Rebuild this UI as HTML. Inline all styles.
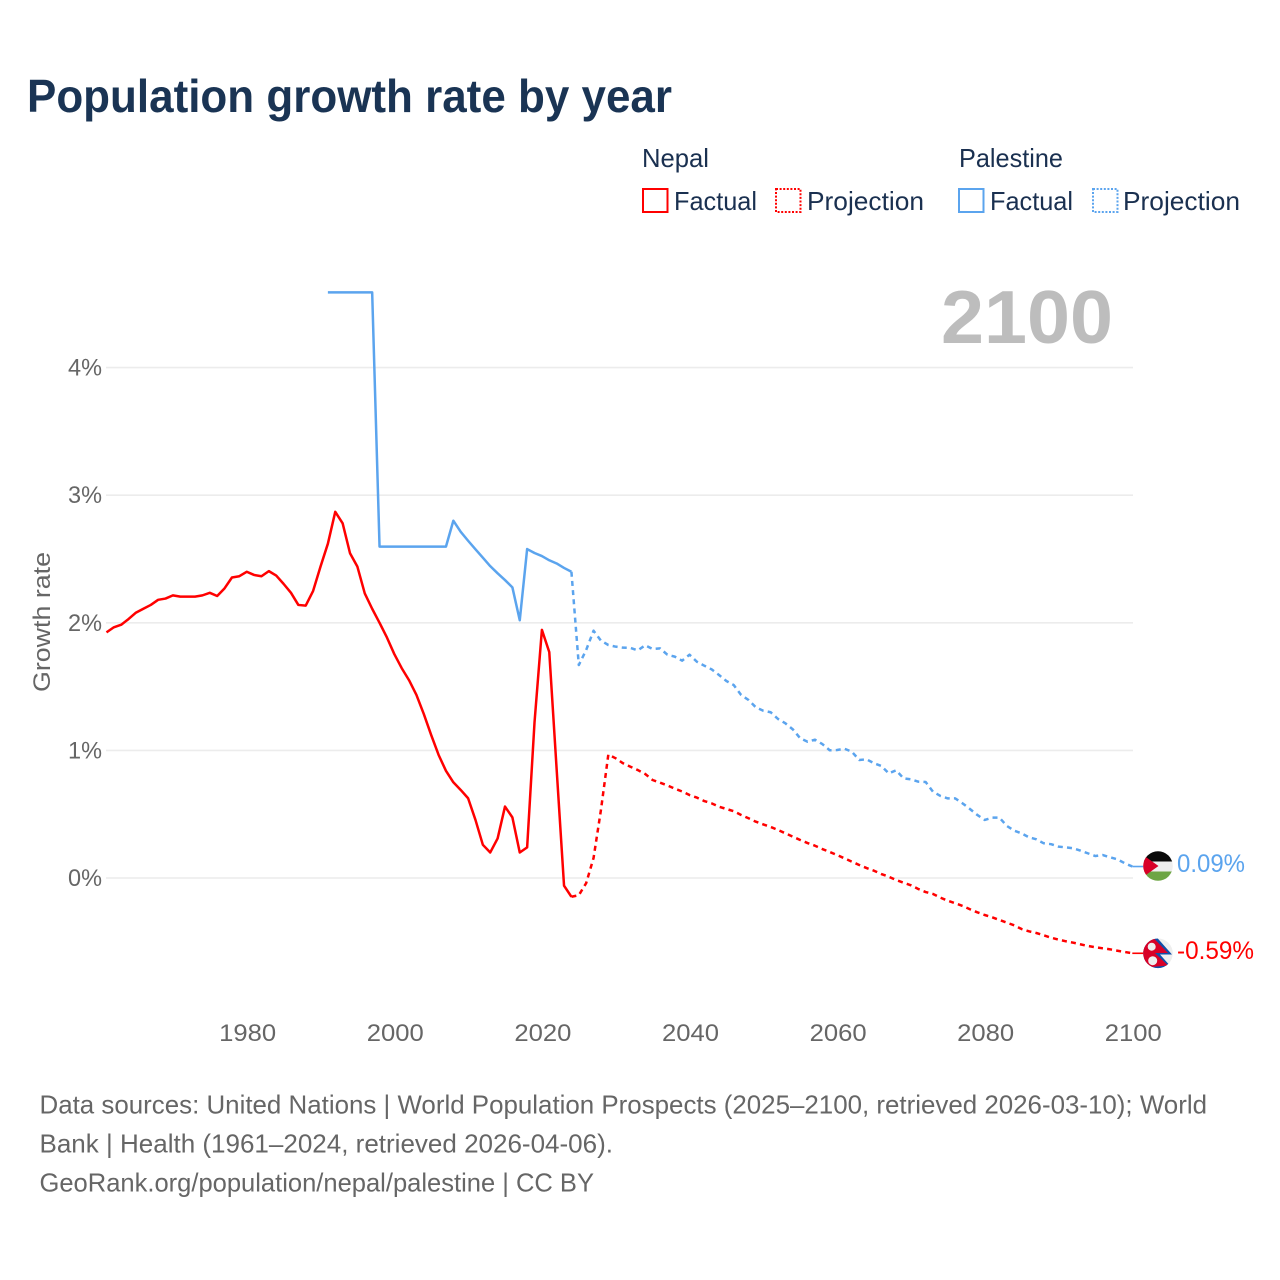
<!DOCTYPE html>
<html lang="en">
<head>
<meta charset="utf-8">
<title>Population growth rate by year</title>
<style>
html,body{margin:0;padding:0;background:#fff;width:1280px;height:1280px;overflow:hidden}
svg{display:block}
text{font-family:"Liberation Sans",sans-serif}
.legend-text{font-size:26px;fill:#1a3050}
.tick-text{font-size:24px;fill:#666}
.foot{font-size:26px;fill:#666}
</style>
</head>
<body>
<svg id="chart" xmlns="http://www.w3.org/2000/svg" width="1280" height="1280" viewBox="0 0 1280 1280">
  <rect x="0" y="0" width="1280" height="1280" fill="#fff"/>
  <text x="27" y="112" font-size="46" font-weight="700" fill="#1a3454" textLength="645" lengthAdjust="spacingAndGlyphs">Population growth rate by year</text>

  <g>
    <text class="legend-text" x="642" y="167" textLength="67" lengthAdjust="spacingAndGlyphs">Nepal</text>
    <rect x="643" y="189" width="24.5" height="23" fill="none" stroke="#ff0000" stroke-width="2"/>
    <text class="legend-text" x="674" y="210" textLength="83" lengthAdjust="spacingAndGlyphs">Factual</text>
    <rect x="776" y="189" width="24.5" height="23" fill="none" stroke="#ff0000" stroke-width="2" stroke-dasharray="2 1.6"/>
    <text class="legend-text" x="807" y="210" textLength="117" lengthAdjust="spacingAndGlyphs">Projection</text>
    <text class="legend-text" x="959" y="167" textLength="104" lengthAdjust="spacingAndGlyphs">Palestine</text>
    <rect x="959" y="189" width="24.5" height="23" fill="none" stroke="#5ba4ee" stroke-width="2"/>
    <text class="legend-text" x="990" y="210" textLength="83" lengthAdjust="spacingAndGlyphs">Factual</text>
    <rect x="1093" y="189" width="24.5" height="23" fill="none" stroke="#5ba4ee" stroke-width="2" stroke-dasharray="2 1.6"/>
    <text class="legend-text" x="1123" y="210" textLength="117" lengthAdjust="spacingAndGlyphs">Projection</text>
  </g>

  <text x="941" y="343" font-size="75" font-weight="700" fill="#bdbdbd" textLength="172" lengthAdjust="spacingAndGlyphs">2100</text>
  <text class="tick-text" transform="translate(50 692) rotate(-90)" x="0" y="0" textLength="140" lengthAdjust="spacingAndGlyphs">Growth rate</text>

  <g id="grid"></g>
  <g id="yticks"></g>
  <g id="xticks"></g>
  <g id="series"></g>

  <defs>
    <clipPath id="clip-ps"><circle cx="1158" cy="866" r="14.8"/></clipPath>
    <clipPath id="clip-np"><circle cx="1158" cy="953.3" r="14.8"/></clipPath>
  </defs>
  <g id="flag-ps" clip-path="url(#clip-ps)">
    <rect x="1143" y="851" width="30" height="11" fill="#0a0a0a"/>
    <rect x="1143" y="861.5" width="30" height="10.5" fill="#eeeeee"/>
    <rect x="1143" y="871.5" width="30" height="10" fill="#6da544"/>
    <polygon points="1143,855 1158.5,866 1143,877" fill="#d80027"/>
  </g>
  <g id="flag-np" clip-path="url(#clip-np)">
    <rect x="1143" y="938" width="30" height="31" fill="#eeeeee"/>
    <polygon points="1140,935 1156,936.5 1172,954.5 1160,954.5 1172,968 1140,970" fill="#0f4fa8"/>
    <polygon points="1140,935 1154,938.5 1168,953 1155,953 1168,965.5 1140,968" fill="#d80027"/>
    <circle cx="1151.7" cy="946.7" r="4" fill="#eeeeee"/>
    <circle cx="1152.7" cy="960.7" r="4.5" fill="#eeeeee"/>
  </g>
  <text id="label-ps" x="1177" y="872" font-size="25" fill="#5ba4ee" textLength="68" lengthAdjust="spacingAndGlyphs"></text>
  <text id="label-np" x="1177" y="959" font-size="25" fill="#ff0000" textLength="77" lengthAdjust="spacingAndGlyphs"></text>

  <g>
    <text class="foot" x="39.5" y="1113.5" textLength="1167.5" lengthAdjust="spacingAndGlyphs">Data sources: United Nations | World Population Prospects (2025–2100, retrieved 2026-03-10); World</text>
    <text class="foot" x="39.5" y="1152.5" textLength="573.5" lengthAdjust="spacingAndGlyphs">Bank | Health (1961–2024, retrieved 2026-04-06).</text>
    <text class="foot" x="39.5" y="1191.5" textLength="554.5" lengthAdjust="spacingAndGlyphs">GeoRank.org/population/nepal/palestine | CC BY</text>
  </g>
</svg>

<script>
const yTickValues = [0, 1, 2, 3, 4];
const xTickYears = [1980, 2000, 2020, 2040, 2060, 2080, 2100];

const nepalFactualStart = 1961;
const nepalFactual = [1.925,1.965,1.985,2.03,2.08,2.11,2.14,2.18,2.19,2.215,2.205,2.205,2.205,2.215,2.235,2.21,2.27,2.355,2.365,2.40,2.375,2.365,2.405,2.37,2.305,2.235,2.14,2.135,2.25,2.44,2.62,2.87,2.78,2.545,2.44,2.23,2.11,2.00,1.885,1.755,1.645,1.55,1.435,1.285,1.12,0.965,0.84,0.75,0.69,0.625,0.455,0.26,0.20,0.31,0.56,0.475,0.20,0.24,1.22,1.945,1.77,0.85,-0.06,-0.147];

const nepalProjectionStart = 2024;
const nepalProjection = [-0.147,-0.135,-0.04,0.157,0.533,0.967,0.938,0.899,0.872,0.846,0.815,0.768,0.747,0.726,0.70,0.678,0.65,0.63,0.603,0.585,0.559,0.541,0.523,0.494,0.468,0.441,0.42,0.40,0.376,0.35,0.324,0.298,0.274,0.253,0.227,0.204,0.18,0.154,0.128,0.102,0.078,0.057,0.031,0.01,-0.016,-0.037,-0.057,-0.086,-0.11,-0.125,-0.154,-0.178,-0.198,-0.219,-0.245,-0.269,-0.29,-0.308,-0.329,-0.35,-0.371,-0.40,-0.418,-0.431,-0.449,-0.468,-0.483,-0.496,-0.507,-0.52,-0.533,-0.543,-0.551,-0.559,-0.57,-0.58,-0.59];

const palestineFactualStart = 1991;
const palestineFactual = [4.59,4.59,4.59,4.59,4.59,4.59,4.59,2.597,2.597,2.597,2.597,2.597,2.597,2.597,2.597,2.597,2.597,2.80,2.713,2.643,2.576,2.51,2.444,2.388,2.335,2.278,2.02,2.578,2.547,2.523,2.49,2.465,2.43,2.40];

const palestineProjectionStart = 2024;
const palestineProjection = [2.40,1.669,1.787,1.938,1.86,1.826,1.813,1.805,1.803,1.784,1.824,1.795,1.80,1.75,1.735,1.703,1.75,1.695,1.664,1.635,1.591,1.544,1.512,1.434,1.395,1.337,1.311,1.299,1.246,1.212,1.165,1.095,1.068,1.084,1.05,1.001,1.003,1.013,0.99,0.925,0.93,0.899,0.878,0.82,0.844,0.781,0.773,0.755,0.752,0.676,0.643,0.624,0.624,0.585,0.541,0.494,0.455,0.473,0.473,0.408,0.371,0.35,0.319,0.303,0.272,0.265,0.246,0.24,0.233,0.214,0.193,0.172,0.18,0.162,0.146,0.115,0.09];

const NS = 'http://www.w3.org/2000/svg';
const RED = '#ff0000';
const BLUE = '#5ba4ee';

function xScale(year) { return 394.3 + (year - 2000) * 7.38; }
function yScale(value) { return 878 - value * 127.6; }

function make(tag, parent, attrs) {
  const el = document.createElementNS(NS, tag);
  for (const k in attrs) el.setAttribute(k, attrs[k]);
  parent.appendChild(el);
  return el;
}

const gridGroup = document.getElementById('grid');
const yGroup = document.getElementById('yticks');
const xGroup = document.getElementById('xticks');
const seriesGroup = document.getElementById('series');

yTickValues.forEach(function (v) {
  const line = make('line', gridGroup, { x1: 106, x2: 1133, y1: yScale(v), y2: yScale(v), stroke: '#ececec', 'stroke-width': 1.6 });
  
  
  const t = make('text', yGroup, { x: 68, y: yScale(v) + 8, class: 'tick-text', textLength: 34, lengthAdjust: 'spacingAndGlyphs' });
  t.textContent = v + '%';
  
  
});

xTickYears.forEach(function (y) {
  const t = make('text', xGroup, { x: xScale(y) + 1, y: 1041, 'text-anchor': 'middle', class: 'tick-text', textLength: 57, lengthAdjust: 'spacingAndGlyphs' });
  t.textContent = String(y);
  
  
});

function pathFor(start, values) {
  return values.map(function (v, i) {
    return (i ? 'L' : 'M') + xScale(start + i).toFixed(2) + ' ' + yScale(v).toFixed(2);
  }).join(' ');
}

function drawSeries(start, values, color, dashed) {
  const attrs = { d: pathFor(start, values), fill: 'none', stroke: color, 'stroke-width': 2.5, 'stroke-linejoin': 'round' };
  if (dashed) attrs['stroke-dasharray'] = '5 4.2';
  return make('path', seriesGroup, attrs);
}

const lineNepalFactual = drawSeries(nepalFactualStart, nepalFactual, RED, false);



const lineNepalProjection = drawSeries(nepalProjectionStart, nepalProjection, RED, true);



const linePalestineFactual = drawSeries(palestineFactualStart, palestineFactual, BLUE, false);



const linePalestineProjection = drawSeries(palestineProjectionStart, palestineProjection, BLUE, true);



const nepalEnd = nepalProjection[nepalProjection.length - 1];
const palestineEnd = palestineProjection[palestineProjection.length - 1];

const connectorNepal = make('line', seriesGroup, { x1: xScale(2100), x2: 1145, y1: yScale(nepalEnd), y2: yScale(nepalEnd), stroke: RED, 'stroke-width': 1.6 });



const connectorPalestine = make('line', seriesGroup, { x1: xScale(2100), x2: 1145, y1: yScale(palestineEnd), y2: yScale(palestineEnd), stroke: BLUE, 'stroke-width': 1.6 });



document.getElementById('label-np').textContent = nepalEnd.toFixed(2) + '%';
document.getElementById('label-ps').textContent = palestineEnd.toFixed(2) + '%';
</script>
</body>
</html>
